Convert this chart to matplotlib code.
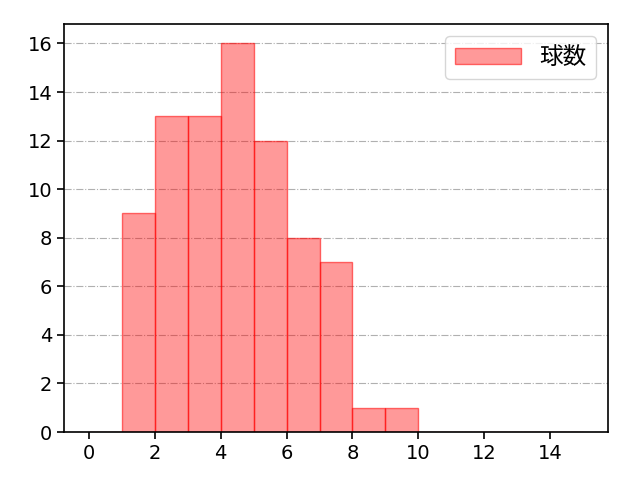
import matplotlib.pyplot as plt
import numpy as np

plt.rcParams['font.family'] = ['DejaVu Sans', 'Noto Sans CJK JP']

# ヒストグラムのデータ
bin_edges = list(range(0, 16))
counts = [0, 9, 13, 13, 16, 12, 8, 7, 1, 1, 0, 0, 0, 0, 0]
label = '球数'

fig, ax = plt.subplots(figsize=(6.4, 4.8), dpi=100)

ax.hist(bin_edges[:-1], bins=bin_edges, weights=counts,
        facecolor=(1, 0, 0, 0.4), edgecolor=(1, 0, 0, 0.55), linewidth=1,
        label=label, zorder=2)

ax.grid(axis='y', linestyle='-.', color='#b0b0b0', linewidth=0.8, zorder=0)
ax.set_axisbelow(True)

ax.set_xticks(np.arange(0, 16, 2))
ax.set_yticks(np.arange(0, 17, 2))
ax.tick_params(labelsize=14, width=1.2, length=5)
for s in ax.spines.values():
    s.set_linewidth(1.2)

ax.legend(loc='upper right', fontsize=17, handlelength=2.8)

fig.subplots_adjust(left=0.1, right=0.95, top=0.95, bottom=0.1)
fig.savefig('out.png', dpi=100)
